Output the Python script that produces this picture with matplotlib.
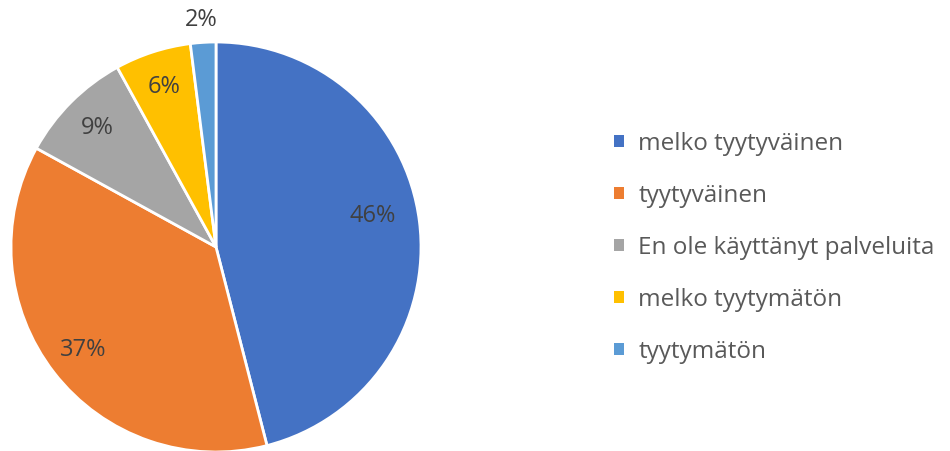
import matplotlib
matplotlib.use("Agg")
import matplotlib.pyplot as plt
import numpy as np

categories = ["melko tyytyväinen", "tyytyväinen", "En ole käyttänyt palveluita",
              "melko tyytymätön", "tyytymätön"]
values = [46, 37, 9, 6, 2]
colors = ["#4472C4", "#ED7D31", "#A5A5A5", "#FFC000", "#5B9BD5"]

plt.rcParams['font.family'] = ['Open Sans', 'DejaVu Sans']

fig = plt.figure(figsize=(9.5, 4.51), dpi=100)
ax = fig.add_axes([11 / 950, -1 / 451, 410 / 950, 410 / 451])

wedges, texts, autotexts = ax.pie(
    values, colors=colors, startangle=90, counterclock=False,
    autopct='%.0f%%', pctdistance=0.82,
    wedgeprops=dict(edgecolor='white', linewidth=2),
    textprops=dict(color='#404040', fontsize=17))

# small slice label sits outside the pie, big one a bit higher
total = sum(values)
for w, t, v in zip(wedges, autotexts, values):
    mid = np.deg2rad((w.theta1 + w.theta2) / 2)
    if v / total < 0.04:
        t.set_position((1.11 * np.cos(mid), 1.11 * np.sin(mid)))
    elif v == max(values):
        mid += np.deg2rad(4)
        t.set_position((0.78 * np.cos(mid), 0.78 * np.sin(mid)))

ax.set_xlim(-1, 1)
ax.set_ylim(-1, 1)
ax.set_aspect('equal')

leg = fig.legend(wedges, categories, loc='upper left',
                 bbox_to_anchor=(592 / 950, 1 - 110 / 451),
                 frameon=False, fontsize=17.5, labelcolor='#595959',
                 handlelength=0.4, handleheight=0.4, handletextpad=0.6,
                 labelspacing=1.15)
for h in leg.legend_handles:
    h.set_edgecolor('none')

fig.savefig("out.png", dpi=100)
